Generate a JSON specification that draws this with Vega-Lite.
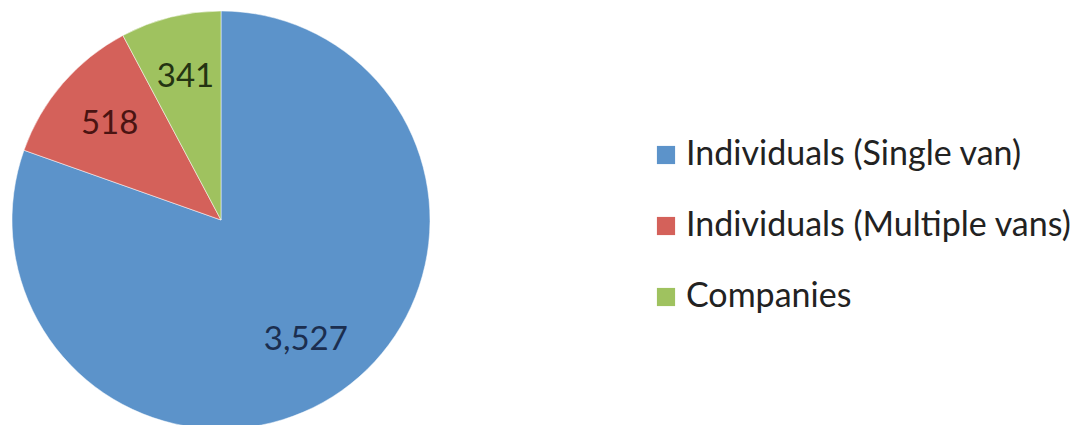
{
  "$schema": "https://vega.github.io/schema/vega-lite/v6.json",
  "width": 442,
  "height": 410,
  "autosize": {"type": "none"},
  "padding": {"left": 0, "top": 15, "right": 639, "bottom": 0},
  "background": "white",
  "view": {"stroke": null},
  "data": {
    "values": [
      {"category": "Individuals (Single van)", "value": 3527},
      {"category": "Individuals (Multiple vans)", "value": 518},
      {"category": "Companies", "value": 341}
    ]
  },
  "encoding": {
    "theta": {"field": "value", "type": "quantitative", "stack": true},
    "order": {"field": "value", "type": "quantitative", "sort": "descending"}
  },
  "layer": [
    {
      "mark": {"type": "arc", "outerRadius": 209, "stroke": "white", "strokeWidth": 0.5},
      "encoding": {
        "color": {
          "field": "category",
          "type": "nominal",
          "scale": {
            "domain": ["Individuals (Single van)", "Individuals (Multiple vans)", "Companies"],
            "range": ["#5C93CA", "#D4615A", "#9FC25F"]
          },
          "legend": {
            "title": null,
            "orient": "none",
            "legendX": 649,
            "legendY": 123,
            "symbolType": "square",
            "symbolSize": 330,
            "symbolStrokeWidth": 0,
            "labelFont": "Lato",
            "labelFontSize": 34,
            "labelColor": "#222222",
            "labelLimit": 1000,
            "labelOffset": 3,
            "rowPadding": 37
          }
        }
      }
    },
    {
      "mark": {"type": "text", "radius": 147, "font": "Lato", "fontSize": 33},
      "encoding": {
        "text": {"field": "value", "type": "quantitative", "format": ","},
        "color": {
          "field": "category",
          "type": "nominal",
          "scale": {
            "domain": ["Individuals (Single van)", "Individuals (Multiple vans)", "Companies"],
            "range": ["#1B2E4F", "#4A1412", "#243312"]
          },
          "legend": null
        }
      }
    }
  ],
  "resolve": {"scale": {"color": "independent"}}
}
